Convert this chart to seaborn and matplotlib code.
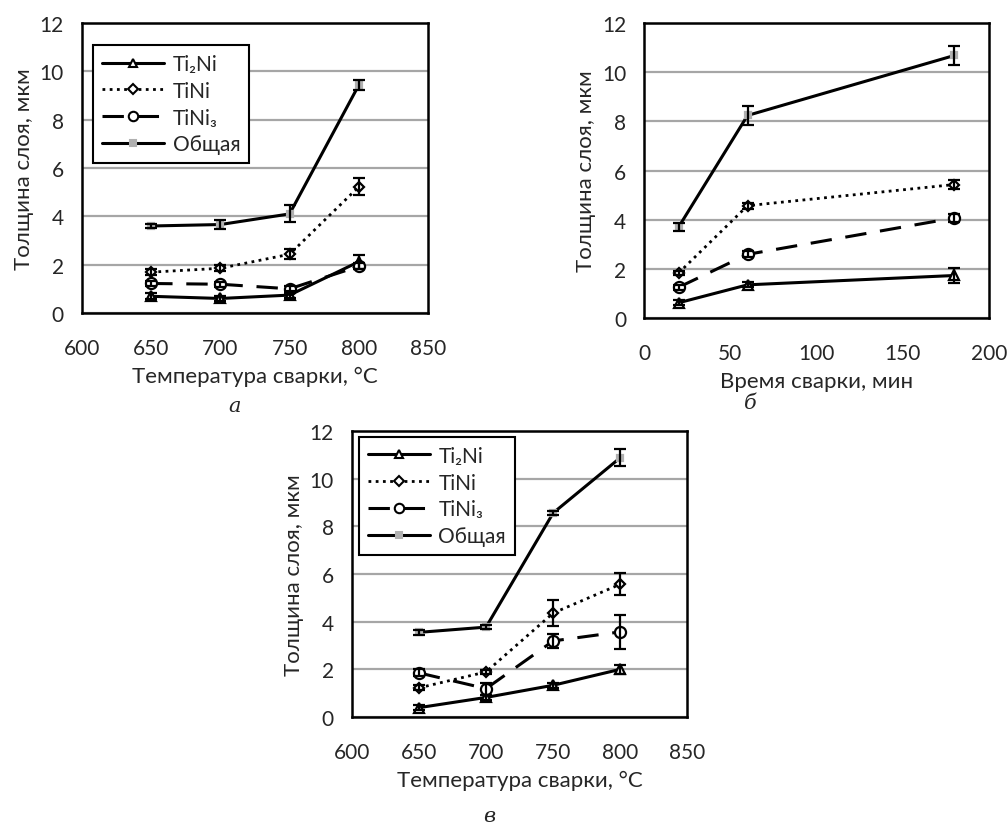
import numpy as np
import pandas as pd
import matplotlib
matplotlib.use("Agg")
import matplotlib.pyplot as plt
import seaborn as sns
from matplotlib.ticker import MultipleLocator
from matplotlib.lines import Line2D

sns.set_theme(style="white")
plt.rcParams['font.family'] = ['Lato', 'DejaVu Sans']

# ---------------- data ----------------
temp = [650, 700, 750, 800]
time_min = [20, 60, 180]
series_names = ["Ti₂Ni", "TiNi", "TiNi₃", "Общая"]

# panel а (temperature)
a_ti2ni = [0.69, 0.6, 0.74, 2.12]
a_tini = [1.69, 1.85, 2.43, 5.22]
a_tini3 = [1.22, 1.19, 1.0, 1.93]
a_total = [3.6, 3.66, 4.1, 9.43]
a_ti2ni_err = [0.12, 0.1, 0.1, 0.3]
a_tini_err = [0.12, 0.12, 0.2, 0.35]
a_tini3_err = [0.1, 0.1, 0.1, 0.12]
a_total_err = [0.1, 0.2, 0.35, 0.2]

# panel б (time)
b_ti2ni = [0.62, 1.35, 1.73]
b_tini = [1.83, 4.57, 5.43]
b_tini3 = [1.25, 2.59, 4.07]
b_total = [3.7, 8.24, 10.68]
b_ti2ni_err = [0.1, 0.1, 0.3]
b_tini_err = [0.1, 0.12, 0.2]
b_tini3_err = [0.1, 0.12, 0.18]
b_total_err = [0.15, 0.4, 0.4]

# panel в (temperature)
c_ti2ni = [0.39, 0.82, 1.33, 2.0]
c_tini = [1.22, 1.89, 4.36, 5.57]
c_tini3 = [1.85, 1.19, 3.19, 3.57]
c_total = [3.55, 3.77, 8.56, 10.88]
c_ti2ni_err = [0.1, 0.1, 0.1, 0.2]
c_tini_err = [0.1, 0.1, 0.55, 0.45]
c_tini3_err = [0.15, 0.25, 0.3, 0.7]
c_total_err = [0.1, 0.1, 0.1, 0.35]

# ---------------- styles ----------------
styles = [
    dict(linestyle='-', marker='^', mfc='white', mec='black', ms=7, lw=2.2),
    dict(linestyle=(0, (1, 1.6)), marker='D', mfc='white', mec='black', ms=5.5, lw=2.0),
    dict(linestyle=(0, (7, 4.5)), marker='o', mfc='white', mec='black', ms=8, lw=2.2),
    dict(linestyle='-', marker='s', mfc='#b0b0b0', mec='#b0b0b0', ms=5, lw=2.2),
]

FS = 15
LFS = 16
TXT = '#262626'


def draw(ax, x, ys, errs, xlim, xmajor, xlabel):
    for name, y, e, st in zip(series_names, ys, errs, styles):
        df = pd.DataFrame({"x": x, "y": y})
        sns.lineplot(data=df, x="x", y="y", ax=ax, color='black',
                     linestyle=st['linestyle'], lw=st['lw'], marker=st['marker'],
                     markersize=st['ms'], markerfacecolor=st['mfc'],
                     markeredgecolor=st['mec'], markeredgewidth=1.6,
                     zorder=3, label=None, legend=False)
        ax.errorbar(x, y, yerr=e, fmt='none', ecolor='black', elinewidth=1.6,
                    capsize=4, capthick=1.6, zorder=4)
    ax.set_xlim(*xlim)
    ax.set_ylim(0, 12)
    ax.xaxis.set_major_locator(MultipleLocator(xmajor))
    ax.xaxis.set_minor_locator(MultipleLocator(10))
    ax.yaxis.set_major_locator(MultipleLocator(2))
    ax.yaxis.set_minor_locator(MultipleLocator(0.5))
    ax.tick_params(axis='both', which='both', direction='in', color='black',
                   width=1.5, labelsize=FS, length=5)
    ax.tick_params(axis='x', which='major', pad=18)
    ax.tick_params(axis='y', which='major', pad=13)
    ax.tick_params(top=False, right=False, which='both')
    ax.grid(False)
    ax.yaxis.grid(True, which='major', color='#a6a6a6', lw=1.6, zorder=0)
    for s in ax.spines.values():
        s.set_visible(True)
        s.set_color('black')
        s.set_linewidth(1.8)
    ax.set_xlabel(xlabel, fontsize=LFS, color=TXT, labelpad=6)
    ax.set_ylabel("Толщина слоя, мкм", fontsize=LFS, color=TXT, labelpad=4)
    for lab in ax.get_xticklabels() + ax.get_yticklabels():
        lab.set_color(TXT)


def add_legend(ax, anchor):
    handles = []
    for name, st in zip(series_names, styles):
        handles.append(Line2D([], [], color='black', linestyle=st['linestyle'],
                              lw=st['lw'], marker=st['marker'], markersize=st['ms'] * 0.85,
                              markerfacecolor=st['mfc'], markeredgecolor=st['mec'],
                              markeredgewidth=1.5))
    leg = ax.legend(handles, series_names, loc='upper left', bbox_to_anchor=anchor,
                    borderaxespad=0, fontsize=FS, handlelength=3.0, handletextpad=0.4,
                    labelspacing=0.33, frameon=True, fancybox=False,
                    borderpad=0.42)
    leg.get_frame().set_edgecolor('black')
    leg.get_frame().set_linewidth(1.5)
    leg.get_frame().set_alpha(1)
    leg.set_zorder(10)
    for t in leg.get_texts():
        t.set_color(TXT)


fig = plt.figure(figsize=(10.08, 8.28), dpi=100)
ax_a = fig.add_axes([0.0813, 0.6208, 0.3433, 0.3502])
ax_b = fig.add_axes([0.639, 0.6147, 0.342, 0.3563])
ax_c = fig.add_axes([0.349, 0.1329, 0.333, 0.3454])

draw(ax_a, temp, [a_ti2ni, a_tini, a_tini3, a_total],
     [a_ti2ni_err, a_tini_err, a_tini3_err, a_total_err], (600, 850), 50,
     "Температура сварки, °C")
draw(ax_b, time_min, [b_ti2ni, b_tini, b_tini3, b_total],
     [b_ti2ni_err, b_tini_err, b_tini3_err, b_total_err], (0, 200), 50,
     "Время сварки, мин")
draw(ax_c, temp, [c_ti2ni, c_tini, c_tini3, c_total],
     [c_ti2ni_err, c_tini_err, c_tini3_err, c_total_err], (600, 850), 50,
     "Температура сварки, °C")

add_legend(ax_a, (0.032, 0.924))
add_legend(ax_c, (0.021, 0.979))

for txt, x, y in [("а", 0.233, 0.497), ("б", 0.744, 0.501), ("в", 0.485, 0.002)]:
    fig.text(x, y, txt, fontsize=15, style='italic', family='DejaVu Serif',
             color=TXT, ha='center', va='bottom')

fig.savefig("out.png", dpi=100)
